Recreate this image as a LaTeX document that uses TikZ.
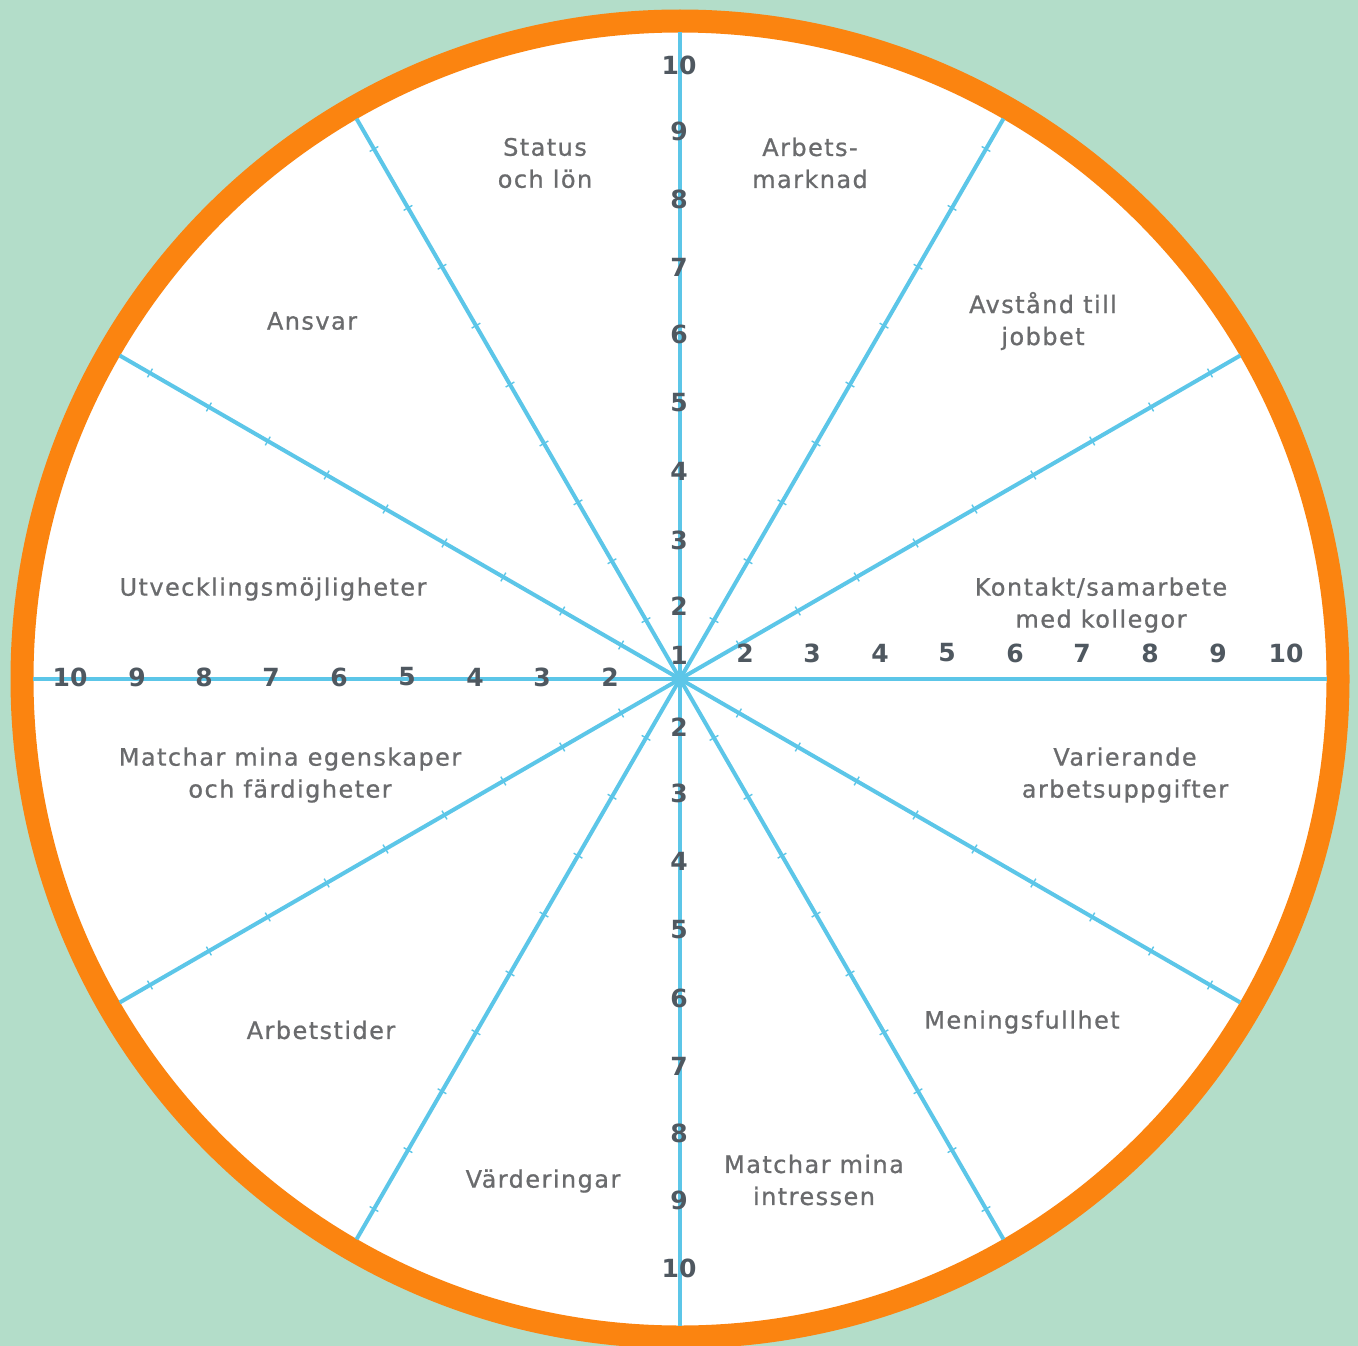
\documentclass[tikz,border=0pt]{standalone}
\usepackage{fontspec}
\setmainfont{DejaVu Sans}
\newfontfamily\labfont[LetterSpace=6,FakeBold=0.8]{DejaVu Sans}
\usetikzlibrary{calc}
\definecolor{mint}{HTML}{B3DDC9}
\definecolor{ringorange}{HTML}{FB8410}
\definecolor{spokeblue}{HTML}{5CC6E8}
\definecolor{labgray}{HTML}{6A6B6D}
\definecolor{numgray}{HTML}{4F5860}
\tikzset{
  spoke/.style={draw=spokeblue, line width=4pt},
  tickmark/.style={draw=spokeblue, line width=1.4pt},
  lab/.style={text=labgray, font=\labfont\fontsize{24}{32}\selectfont, align=center, inner sep=0pt},
  num/.style={text=numgray, font=\bfseries\fontsize{25}{28}\selectfont, inner sep=0pt},
}
\begin{document}
\begin{tikzpicture}[x=1pt,y=-1pt]
\useasboundingbox (0,0) rectangle (1358,1346);
\fill[mint] (0,0) rectangle (1358,1346);
\coordinate (c) at (680,679);
\fill[white] (c) circle (658);
\draw[ringorange, line width=23pt] (c) circle (658);
% spokes
\foreach \a in {0,30,...,330}
  \draw[spoke] (c) -- ++(\a:647);
\fill[spokeblue] (c) circle (7);
% ticks on diagonal spokes
\foreach \a in {30,60,120,150,210,240,300,330}
  \foreach \k in {1,...,9}
    \draw[tickmark] ($(c)+(\a:68*\k)+(\a+90:5)$) -- ($(c)+(\a:68*\k)+(\a-90:5)$);
% numbers: top
\foreach \n/\y in {10/65,9/131,8/199,7/267,6/334,5/403,4/471,3/540,2/606,1/655}
  \node[num] (t\n) at (679,\y) {\n};
% right
\foreach \n/\x in {2/745,3/812,4/880,5/947,6/1015,7/1082,8/1150,9/1218,10/1286}
  \node[num] (r\n) at (\x,653) {\n};
% bottom
\foreach \n/\y in {2/727,3/793,4/861,5/930,6/998,7/1066,8/1133,9/1200,10/1268}
  \node[num] (b\n) at (679,\y) {\n};
% left
\foreach \n/\x in {10/70,9/137,8/204,7/271,6/339,5/407,4/475,3/542,2/610}
  \node[num] (l\n) at (\x,677) {\n};
% labels
\node[lab] (status) at (545,163) {Status\\och lön};
\node[lab] (arbmark) at (810,163) {Arbets-\\marknad};
\node[lab] (avstand) at (1043,321) {Avstånd till\\jobbet};
\node[lab] (kontakt) at (1101,605) {Kontakt/samarbete\\med kollegor};
\node[lab] (varier) at (1125,775) {Varierande\\arbetsuppgifter};
\node[lab] (mening) at (1022,1022) {Meningsfullhet};
\node[lab] (intress) at (814,1180) {Matchar mina\\intressen};
\node[lab] (varde) at (543,1181) {Värderingar};
\node[lab] (arbtid) at (321,1030) {Arbetstider};
\node[lab] (egensk) at (290,775) {Matchar mina egenskaper\\och färdigheter};
\node[lab] (utveck) at (273,589) {Utvecklingsmöjligheter};
\node[lab] (ansvar) at (312,321) {Ansvar};
\end{tikzpicture}
\end{document}
